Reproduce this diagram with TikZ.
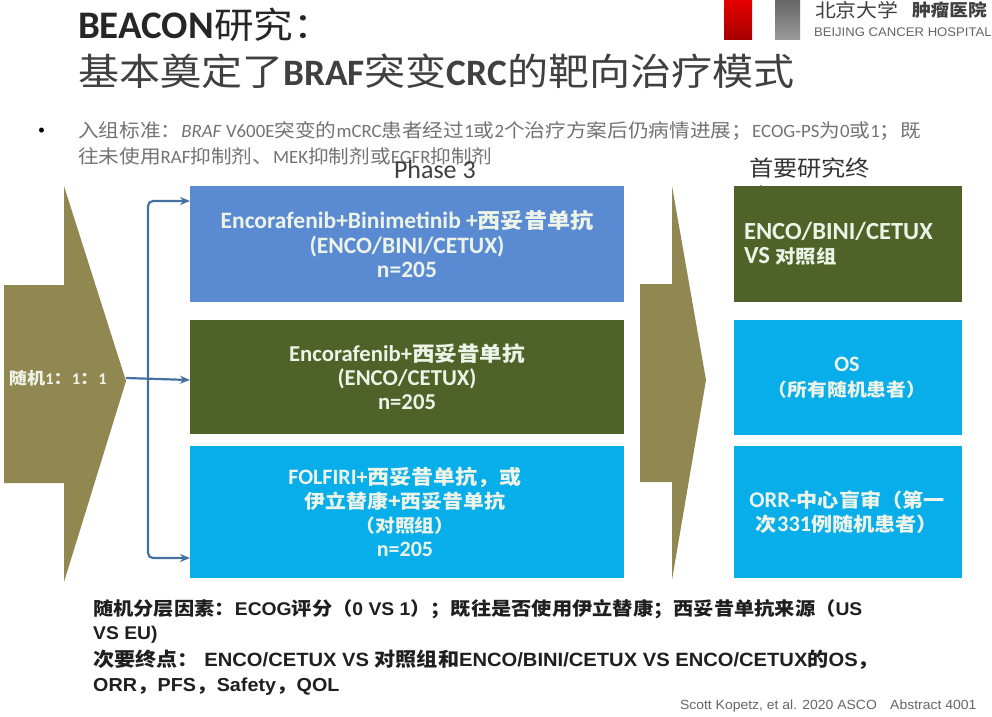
\documentclass[tikz,border=0pt]{standalone}
\usepackage{fontspec}
\usetikzlibrary{arrows.meta,calc}
\setmainfont{Carlito}
\newfontfamily\zh[FakeStretch=1.1]{Noto Sans CJK SC}
\newfontfamily\lib[FakeStretch=1.05]{Liberation Sans}
\newcommand\Z[1]{{\zh #1}}
\newcommand\fs[1]{\fontsize{#1}{#1}\selectfont}
\definecolor{bluebox}{HTML}{5A8BD2}
\definecolor{olivebox}{HTML}{4F6228}
\definecolor{cyanbox}{HTML}{08AEEA}
\definecolor{khaki}{HTML}{918751}
\definecolor{linkblue}{HTML}{44719F}
\definecolor{boxtext}{HTML}{EEF3E8}
\tikzset{
  treat/.style={anchor=north west,inner sep=0pt,outer sep=0pt,text=boxtext,align=center},
  free/.style={anchor=west,inner sep=0pt,outer sep=0pt},
  boxlabel/.style={text=boxtext,align=center,inner sep=0pt},
  conn/.style={draw=linkblue,line width=2.2pt,rounded corners=5pt,-{Stealth[length=10pt,width=8pt]}},
  bigarrow/.style={fill=khaki,draw=none}
}
\begin{document}
\begin{tikzpicture}[x=1pt,y=-1pt]
\useasboundingbox (0,0) rectangle (992,716);
\fill[white] (0,0) rectangle (992,716);
% logo
\shade[top color=red!90!black,bottom color=red!65!black] (724,0) rectangle (752,39);
\shade[top color=black!60,bottom color=black!40] (775,0) rectangle (800,39);
\node[free,text=black!75] (logoa) at (815,10) {\zh\fs{19}北京大学};
\node[free,text=black!75] (logob) at (912,10) {\zh\bfseries\fs{17}肿瘤医院};
\node[free,text=black!60] (logoc) at (814,32) {\lib\fs{12.5}BEIJING CANCER HOSPITAL};
% title
\node[free,text=black!85] (t1) at (78,25) {\bfseries\fs{39}BEACON\Z{\mdseries\fs{36}研究：}};
\node[free,text=black!75] (t2) at (78,71) {\Z{\fs{37.3}基本奠定了}\textbf{\fs{37.3}BRAF}\Z{\fs{37.3}突变}\textbf{\fs{37.3}CRC}\Z{\fs{37.3}的靶向治疗模式}};
% criteria
\node[free] (bul) at (38,131) {\fs{14}•};
\node[free,text=black!55] (c1) at (78,131) {\fs{18.8}\Z{入组标准：}\textit{BRAF} V600E\Z{突变的}mCRC\Z{患者经过}1\Z{或}2\Z{个治疗方案后仍病情进展；}ECOG-PS\Z{为}0\Z{或}1\Z{；既}};
\node[free,text=black!55] (c2) at (78,156) {\fs{18.8}\Z{往未使用}RAF\Z{抑制剂、}MEK\Z{抑制剂或}EGFR\Z{抑制剂}};
\node[free,text=black!75] (ph) at (394,170) {\fs{26}Phase 3};
\node[free,text=black!80] (hd) at (749,168) {\zh\fs{22}首要研究终};
\node[free,text=black!80] (hd2) at (749,196) {\zh\fs{22}点};
% big arrows
\path[bigarrow] (4,285) -- (64,285) -- (64,186) -- (126,381) -- (64,582) -- (64,483) -- (4,483) -- cycle;
\path[bigarrow] (640,284) -- (672,284) -- (672,186) -- (706,380) -- (672,580) -- (672,482) -- (640,482) -- cycle;
\coordinate (tip) at (126,378);
\node[free,text=boxtext] (rand) at (9,378) {\bfseries\fs{16.5}\Z{随机}1\Z{：}1\Z{：}1};
% treatment boxes
\node[treat,fill=bluebox,minimum width=434pt,minimum height=116pt] (b1) at (190,186) {};
\node[treat,fill=olivebox,minimum width=434pt,minimum height=114pt] (b2) at (190,320) {};
\node[treat,fill=cyanbox,minimum width=434pt,minimum height=132pt] (b3) at (190,446) {};
\node[boxlabel,font=\bfseries\fs{23.5}] (b1t) at (407,244) {Encorafenib+Binimetinib +\Z{\fs{21}西妥昔单抗}\\[1pt](ENCO/BINI/CETUX)\\[1pt]n=205};
\node[boxlabel,font=\bfseries\fs{22.7}] (b2t) at (407,377) {Encorafenib+\Z{\fs{20.5}西妥昔单抗}\\[1.3pt](ENCO/CETUX)\\[1.3pt]n=205};
\node[boxlabel,font=\bfseries\fs{22}] (b3t) at (405,512) {FOLFIRI+\Z{\fs{20}西妥昔单抗，或}\\[2pt]\Z{\fs{19}伊立替康+西妥昔单抗}\\[2pt]\Z{\fs{18}（对照组）}\\[2pt]n=205};
% endpoint boxes
\node[treat,fill=olivebox,minimum width=228pt,minimum height=116pt] (e1) at (734,186) {};
\node[treat,fill=cyanbox,minimum width=228pt,minimum height=115pt] (e2) at (734,320) {};
\node[treat,fill=cyanbox,minimum width=228pt,minimum height=132pt] (e3) at (734,446) {};
\node[free,text=boxtext,align=left,font=\bfseries\fs{24.6}] (e1t) at (744,244) {ENCO/BINI/CETUX\\[-1pt]VS \Z{\fs{18.5}对照组}};
\node[boxlabel,font=\bfseries\fs{22}] (e2t) at (847,378) {OS\\[3pt]\Z{\fs{18}（所有随机患者）}};
\node[boxlabel,font=\bfseries\fs{22.5}] (e3t) at (847,512) {ORR-\Z{\fs{19.2}中心盲审（第一}\\[2pt]\Z{\fs{19.2}次}331\Z{\fs{19.2}例随机患者）}};
% connectors
\coordinate (trunk) at (148,379);
\coordinate (in1) at (190,201);
\coordinate (in3) at (190,558);
\draw[conn] (tip) -- (b2.west |- 0,380);
\draw[conn] (trunk) |- (in1);
\draw[conn] (trunk) |- (in3);
% notes
\node[anchor=north west,inner sep=0pt,text=black!88,align=left,font=\lib\bfseries\fs{18.4}] (n1) at (93,599) {\Z{随机分层因素：}ECOG\Z{评分（}0 VS 1\Z{）；既往是否使用伊立替康；西妥昔单抗来源（}US\\[6pt]VS EU)\\[6pt]{\fs{19.2}\Z{次要终点：} ENCO/CETUX VS \Z{对照组和}ENCO/BINI/CETUX VS ENCO/CETUX\Z{的}OS\Z{，}}\\[6pt]{\fs{18.8}ORR\Z{，}PFS\Z{，}Safety\Z{，}QOL}};
\node[free,text=black!60] (cite) at (680,706) {\lib\fs{13.3}Scott Kopetz, et al. 2020 ASCO\quad Abstract 4001};
\end{tikzpicture}
\end{document}
